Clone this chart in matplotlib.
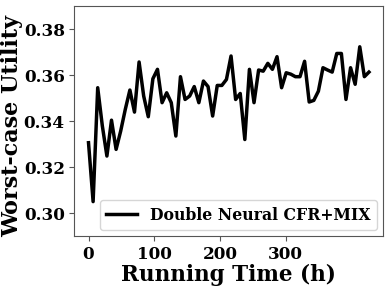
import matplotlib
matplotlib.use("Agg")
import matplotlib.pyplot as plt
import numpy as np

hours = np.arange(62) * 7
utility = [0.3306, 0.305, 0.3545, 0.338, 0.3248, 0.3404, 0.3277, 0.3357, 0.3451, 0.3535,
           0.3439, 0.3657, 0.3509, 0.3419, 0.3584, 0.3625, 0.348, 0.3523, 0.348, 0.3335,
           0.3593, 0.3494, 0.3509, 0.355, 0.348, 0.3574, 0.355, 0.3422, 0.3555, 0.3555,
           0.3581, 0.3683, 0.3494, 0.352, 0.332, 0.3625, 0.348, 0.3622, 0.3617, 0.3651,
           0.3625, 0.368, 0.3545, 0.361, 0.3604, 0.3593, 0.3593, 0.366, 0.3483, 0.349,
           0.353, 0.3632, 0.3622, 0.3613, 0.3694, 0.3694, 0.3494, 0.3632, 0.356, 0.3723,
           0.3593, 0.3613]
xticks = [0, 100, 200, 300]
yticks = [0.30, 0.32, 0.34, 0.36, 0.38]
label = "Double Neural CFR+MIX"

plt.rcParams['font.family'] = 'DejaVu Serif'
plt.rcParams['font.weight'] = 'bold'

fig = plt.figure(figsize=(3.9, 2.89), dpi=100)
ax = fig.add_axes([0.191, 0.183, 0.791, 0.796])
ax.plot(hours, utility, color='black', lw=2.5, label=label)
ax.set_xticks(xticks)
ax.set_yticks(yticks)
ax.set_ylim(0.29, 0.39)
for s in ax.spines.values():
    s.set_color('#555555')
ax.tick_params(labelsize=12.2, color='#555555')
for t in ax.get_xticklabels() + ax.get_yticklabels():
    t.set_fontweight('bold')
ax.set_xlabel("Running Time (h)", fontsize=15.5, fontweight='bold', labelpad=1)
ax.set_ylabel("Worst-case Utility", fontsize=16, fontweight='bold')
ax.yaxis.set_label_coords(-0.165, 0.48)
ax.legend(loc='lower right', prop={'size': 11.3, 'weight': 'bold'}, borderaxespad=0.4)
fig.savefig("out.png", dpi=100)
